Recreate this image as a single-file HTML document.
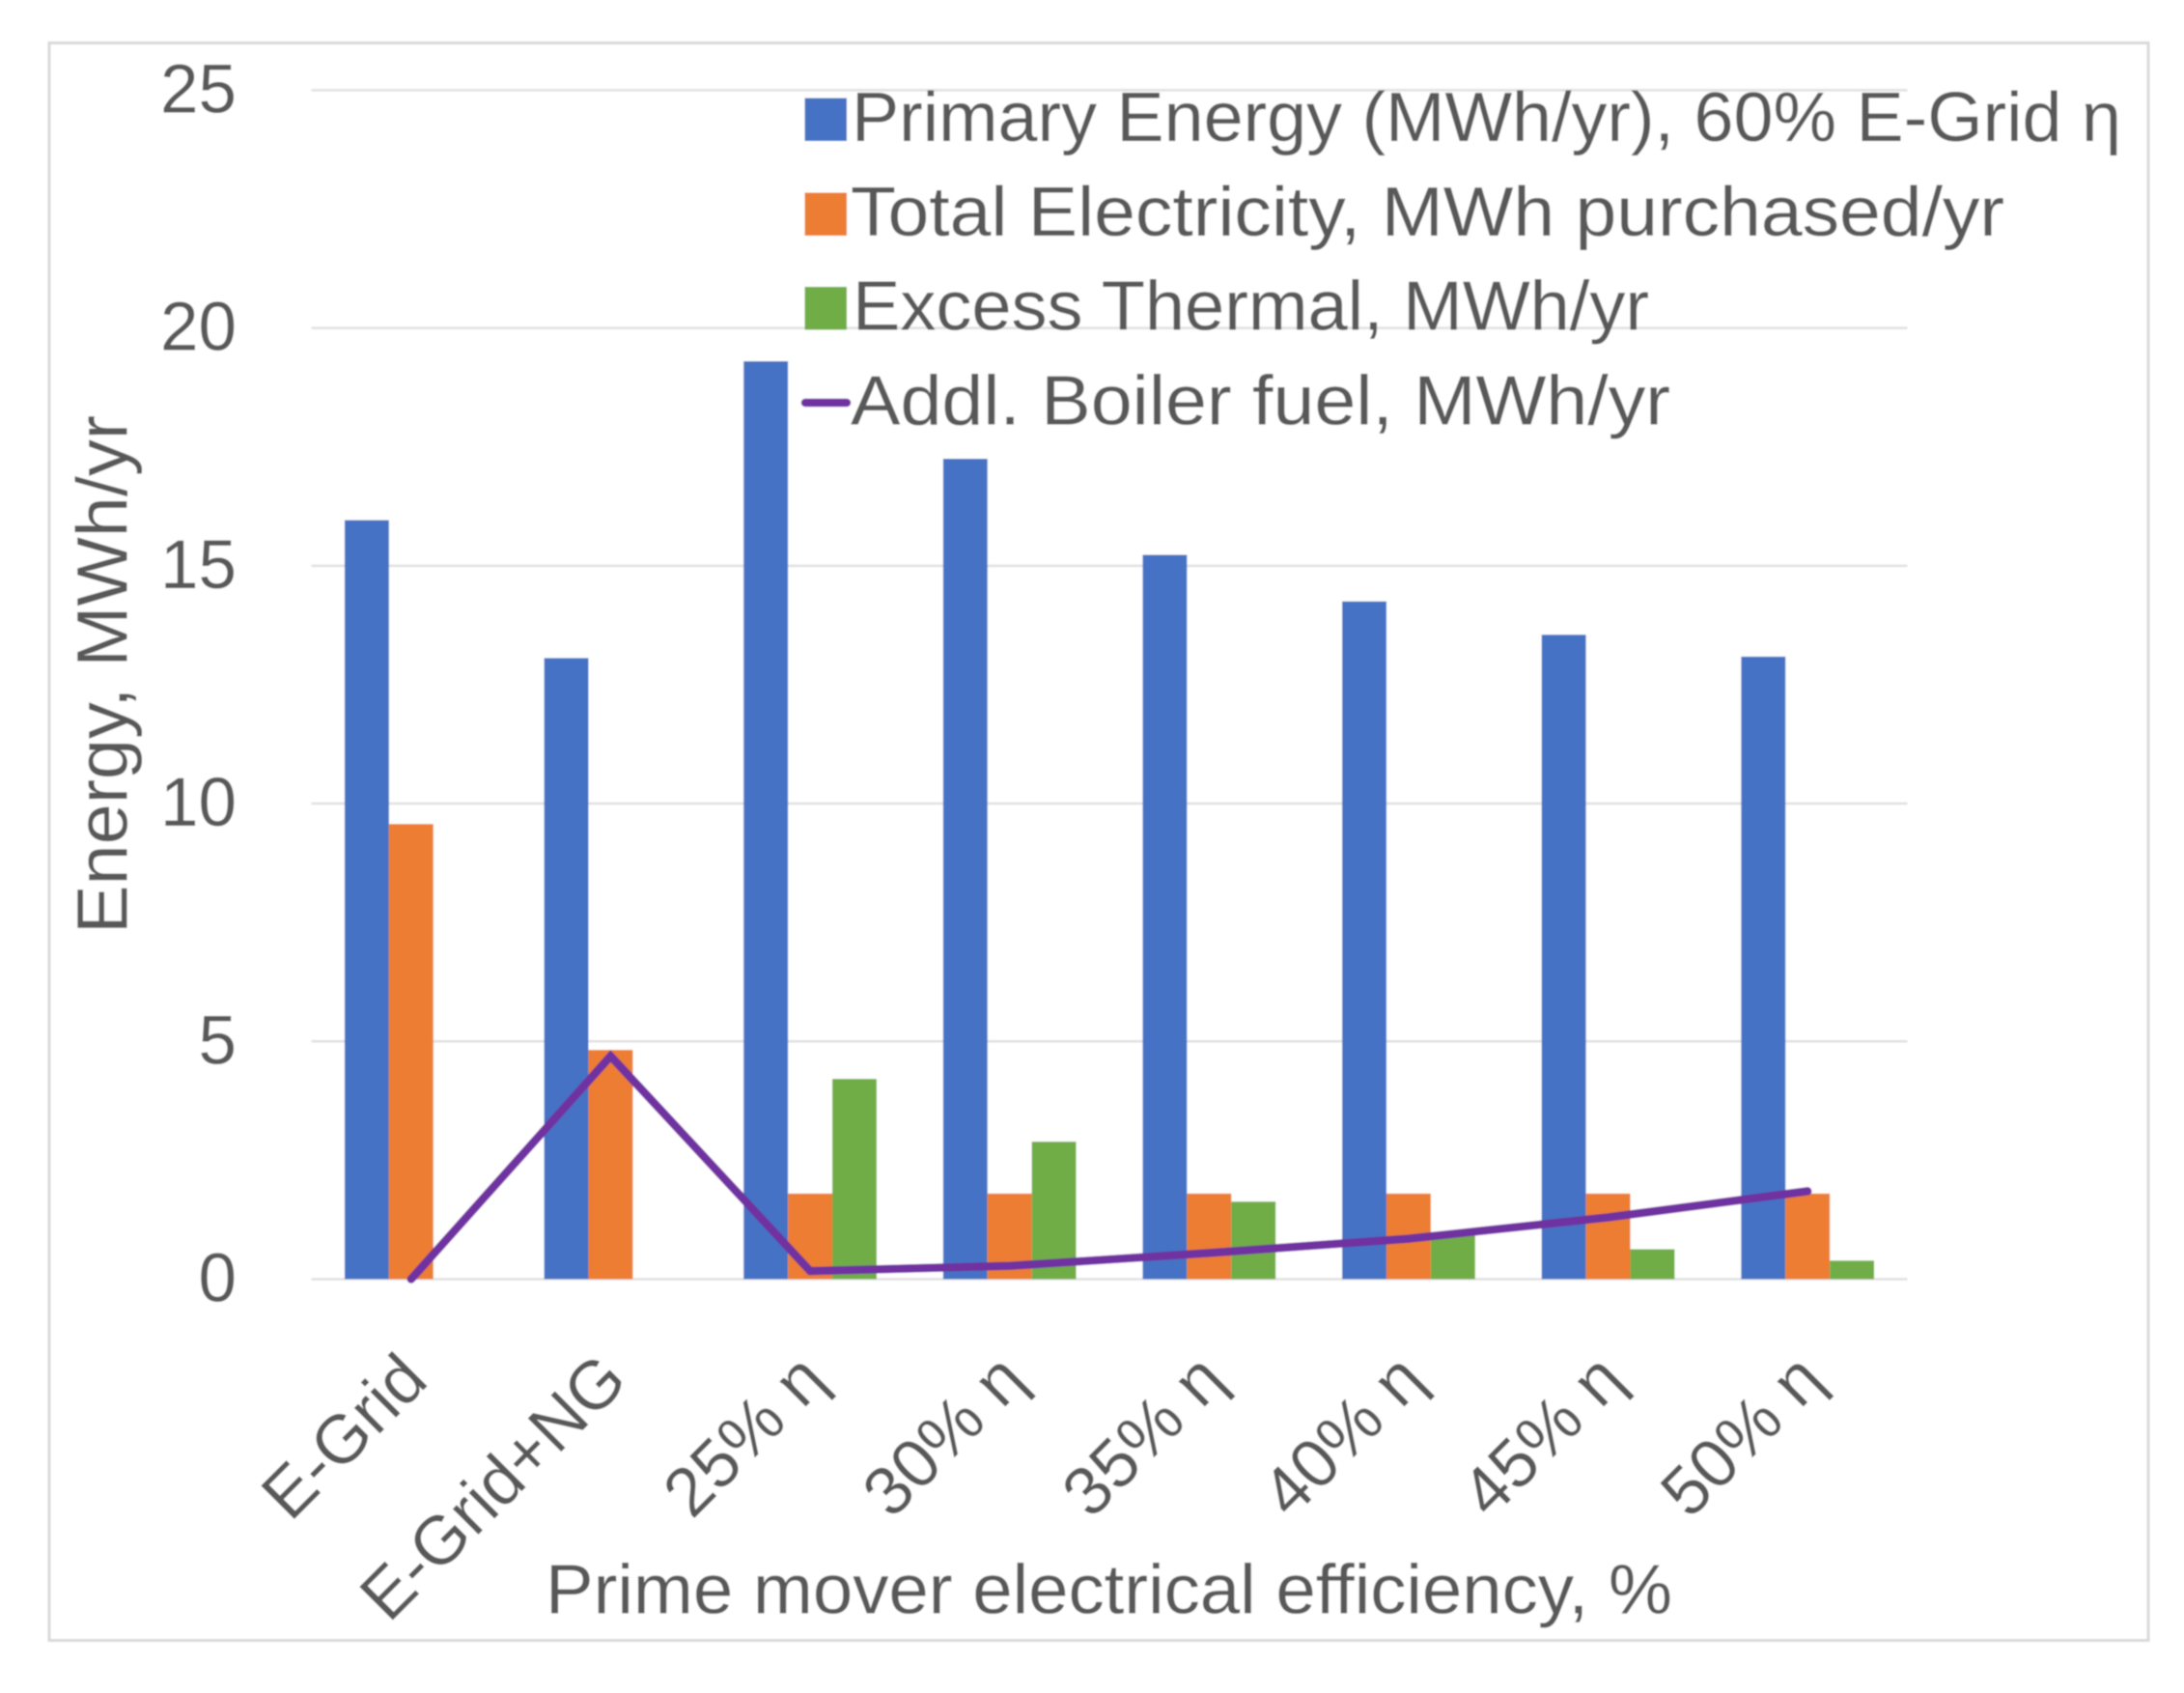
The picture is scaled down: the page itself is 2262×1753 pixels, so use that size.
<!DOCTYPE html>
<html lang="en">
<head>
<meta charset="utf-8">
<title>Energy by prime mover electrical efficiency</title>
<style>
html,body{margin:0;padding:0;background:#fff;}
body{width:2262px;height:1753px;overflow:hidden;}
svg{display:block;}
text{font-family:"Liberation Sans","DejaVu Sans",sans-serif;fill:#595959;}
</style>
</head>
<body>
<svg id="chart" xmlns="http://www.w3.org/2000/svg" width="2262" height="1753" viewBox="0 0 2262 1753">
  <defs>
    <filter id="soft" x="-2%" y="-2%" width="104%" height="104%"><feGaussianBlur stdDeviation="0.7"/></filter>
  </defs>
  <rect x="0" y="0" width="2262" height="1753" fill="#ffffff"/>
  <g filter="url(#soft)">
    <rect x="51" y="44.5" width="2174" height="1654" fill="#ffffff" stroke="#d9d9d9" stroke-width="3"/>
    <g id="grid"></g>
    <g id="y-ticks"></g>
    <g id="bars"></g>
    <path id="boiler-line" fill="none" stroke="#7030a0" stroke-width="8.5" stroke-linecap="round" stroke-linejoin="miter"/>
    <g id="x-ticks"></g>
    <text transform="translate(131.5 967) rotate(-90)" font-size="74" textLength="537" lengthAdjust="spacingAndGlyphs">Energy, MWh/yr</text>
    <text x="565" y="1670.5" font-size="72" textLength="1167" lengthAdjust="spacingAndGlyphs">Prime mover electrical efficiency, %</text>
    <g>
      <rect x="833.5" y="101.5" width="43.5" height="44.5" fill="#4472c4"/>
      <text x="882" y="146" font-size="72" textLength="1315" lengthAdjust="spacingAndGlyphs">Primary Energy (MWh/yr), 60% E-Grid η</text>
      <rect x="833.5" y="199.5" width="43.5" height="44.5" fill="#ed7d31"/>
      <text x="881" y="244" font-size="72" textLength="1195" lengthAdjust="spacingAndGlyphs">Total Electricity, MWh purchased/yr</text>
      <rect x="833.5" y="297" width="43.5" height="44.5" fill="#70ad47"/>
      <text x="883" y="341.5" font-size="72" textLength="825" lengthAdjust="spacingAndGlyphs">Excess Thermal, MWh/yr</text>
      <line x1="834" y1="417" x2="877" y2="417" stroke="#7030a0" stroke-width="8.5" stroke-linecap="round"/>
      <text x="881" y="439.5" font-size="72" textLength="849" lengthAdjust="spacingAndGlyphs">Addl. Boiler fuel, MWh/yr</text>
    </g>
  </g>
</svg>
<script>
const categories = ['E-Grid', 'E-Grid+NG', '25% η', '30% η', '35% η', '40% η', '45% η', '50% η'];
const primaryEnergy = [15.96, 13.06, 19.3, 17.25, 15.23, 14.25, 13.55, 13.09];
const totalElectricity = [9.57, 4.82, 1.8, 1.8, 1.8, 1.8, 1.8, 1.8];
const excessThermal = [0, 0, 4.21, 2.89, 1.63, 0.93, 0.63, 0.39];
const boilerFuel = [0, 4.69, 0.17, 0.28, 0.55, 0.85, 1.3, 1.85];
const yTickValues = [0, 5, 10, 15, 20, 25];

const NS = 'http://www.w3.org/2000/svg';
const plotLeft = 322.5, plotRight = 1975.5, plotBottom = 1324.5, plotTop = 93.4, yMax = 25;
const band = (plotRight - plotLeft) / categories.length;
const barWidth = 45.9;
function xCenter(i) { return plotLeft + band * (i + 0.5); }
function yScale(v) { return plotBottom - (v / yMax) * (plotBottom - plotTop); }
function make(tag, attrs, parent) {
  const el = document.createElementNS(NS, tag);
  for (const k in attrs) el.setAttribute(k, attrs[k]);
  parent.appendChild(el);
  return el;
}

const gridGroup = document.getElementById('grid');
const yTickGroup = document.getElementById('y-ticks');
yTickValues.forEach(function (v) {
  const line = make('line', { x1: plotLeft, x2: plotRight, y1: yScale(v), y2: yScale(v), stroke: '#e0e0e0', 'stroke-width': 2.5 }, gridGroup);
  
  
  const label = make('text', { x: 245, y: yScale(v) + 23, 'font-size': 71, 'text-anchor': 'end' }, yTickGroup);
  label.textContent = String(v);
  
  
});

const seriesList = [
  { key: 'primary-energy', values: primaryEnergy, color: '#4472c4', slot: -1.5 },
  { key: 'total-electricity', values: totalElectricity, color: '#ed7d31', slot: -0.5 },
  { key: 'excess-thermal', values: excessThermal, color: '#70ad47', slot: 0.5 }
];
const barGroup = document.getElementById('bars');
seriesList.forEach(function (s) {
  s.values.forEach(function (v, i) {
    if (v <= 0) return;
    const bar = make('rect', {
      x: xCenter(i) + s.slot * barWidth,
      y: yScale(v),
      width: barWidth,
      height: plotBottom - yScale(v),
      fill: s.color
    }, barGroup);
    
    
  });
});

document.getElementById('boiler-line').setAttribute('d', boilerFuel.map(function (v, i) {
  return (i ? 'L' : 'M') + xCenter(i).toFixed(1) + ' ' + yScale(v).toFixed(1);
}).join(' '));

const xTickGroup = document.getElementById('x-ticks');
categories.forEach(function (c, i) {
  const ax = xCenter(i) + 20;
  const ay = 1432;
  const label = make('text', { 'font-size': 71, 'text-anchor': 'end', transform: 'translate(' + ax + ' ' + ay + ') rotate(-45)' }, xTickGroup);
  label.textContent = c;
  
  
});
</script>
</body>
</html>
